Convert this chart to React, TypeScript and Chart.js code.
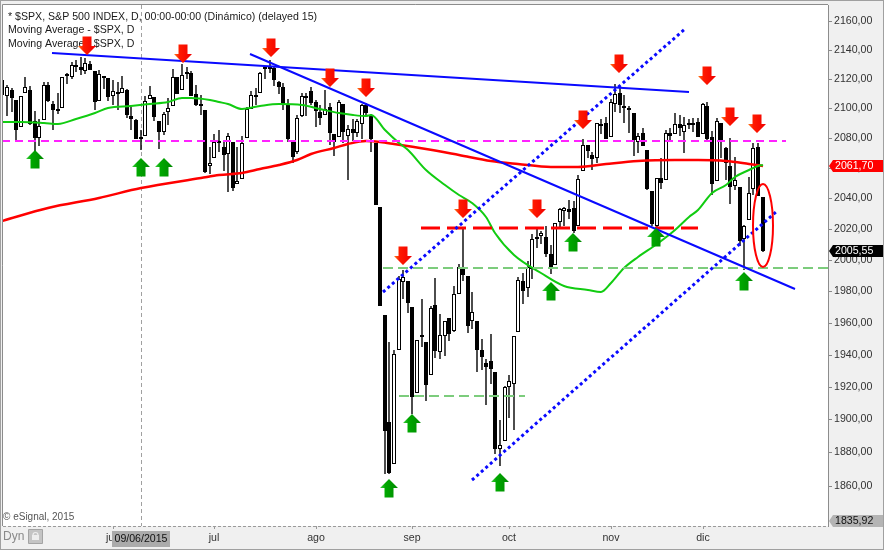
import React, { useEffect, useRef } from 'react';
import { Chart, registerables } from 'chart.js';

Chart.register(...registerables);

const FONT = '"Liberation Sans", Arial, Helvetica, sans-serif';
const FS = 10.6;

// ---- trading days (month, days) ----
const tradingDays: [string, number[]][] = [
  ['04', [27, 28, 29, 30]],
  ['05', [1, 4, 5, 6, 7, 8, 11, 12, 13, 14, 15, 18, 19, 20, 21, 22, 26, 27, 28, 29]],
  ['06', [1, 2, 3, 4, 5, 8, 9, 10, 11, 12, 15, 16, 17, 18, 19, 22, 23, 24, 25, 26, 29, 30]],
  ['07', [1, 2, 6, 7, 8, 9, 10, 13, 14, 15, 16, 17, 20, 21, 22, 23, 24, 27, 28, 29, 30, 31]],
  ['08', [3, 4, 5, 6, 7, 10, 11, 12, 13, 14, 17, 18, 19, 20, 21, 24, 25, 26, 27, 28, 31]],
  ['09', [1, 2, 3, 4, 8, 9, 10, 11, 14, 15, 16, 17, 18, 21, 22, 23, 24, 25, 28, 29, 30]],
  ['10', [1, 2, 5, 6, 7, 8, 9, 12, 13, 14, 15, 16, 19, 20, 21, 22, 23, 26, 27, 28, 29, 30]],
  ['11', [2, 3, 4, 5, 6, 9, 10, 11, 12, 13, 16, 17, 18, 19, 20, 23, 24, 25, 27, 30]],
  ['12', [1, 2, 3, 4, 7, 8, 9, 10, 11, 14, 15, 16, 17, 18]],
];
const dates = tradingDays.flatMap(([m, ds]) => ds.map((d) => `${String(d).padStart(2, '0')}/${m}/2015`));

// ---- OHLC (one line per month) ----
const open = [
  2119.3, 2108.4, 2112.5, 2105.5,
  2087.4, 2110.2, 2112.6, 2091.3, 2080.0, 2092.1, 2115.6, 2102.9, 2099.6, 2100.4, 2122.1, 2121.3, 2129.5, 2127.8, 2125.6, 2130.4, 2125.3, 2105.1, 2122.3, 2120.7,
  2108.6, 2110.4, 2110.6, 2112.4, 2095.1, 2092.3, 2079.1, 2081.1, 2106.2, 2107.4, 2091.3, 2084.3, 2097.4, 2101.6, 2121.1, 2112.5, 2123.2, 2123.7, 2110.0, 2102.6, 2098.6, 2061.2,
  2067.0, 2078.0, 2074.0, 2069.5, 2077.7, 2049.7, 2052.7, 2080.0, 2099.7, 2109.2, 2110.6, 2126.8, 2126.9, 2127.6, 2118.2, 2114.2, 2102.2, 2078.2, 2070.8, 2094.7, 2106.8, 2111.6,
  2104.5, 2097.7, 2095.3, 2100.8, 2082.6, 2081.0, 2102.7, 2081.1, 2086.2, 2083.2, 2089.7, 2102.0, 2095.7, 2076.6, 2034.1, 1965.2, 1898.1, 1872.8, 1942.8, 1986.1, 1986.7,
  1970.1, 1916.5, 1950.8, 1947.8, 1927.3, 1971.5, 1941.6, 1951.5, 1963.1, 1955.1, 1978.0, 1995.3, 1989.7, 1960.8, 1961.4, 1943.2, 1934.8, 1935.9, 1929.2, 1881.9, 1887.1,
  1919.7, 1921.8, 1954.3, 1986.6, 1982.3, 1994.0, 2013.7, 2015.7, 2015.0, 2003.7, 1996.5, 2024.4, 2031.7, 2033.1, 2033.5, 2021.9, 2058.2, 2075.1, 2068.8, 2066.5, 2088.4, 2090.0,
  2080.8, 2102.6, 2110.6, 2101.7, 2098.6, 2096.6, 2077.2, 2083.4, 2072.3, 2044.6, 2022.1, 2053.7, 2052.0, 2083.7, 2082.8, 2089.4, 2084.4, 2089.3, 2088.8, 2091.0,
  2082.9, 2101.7, 2080.7, 2051.2, 2090.4, 2073.4, 2061.2, 2047.9, 2047.3, 2013.4, 2025.6, 2046.5, 2073.8, 2040.8,
];
const high = [
  2125.9, 2116.0, 2113.7, 2105.5,
  2108.4, 2121.0, 2115.2, 2098.4, 2092.9, 2117.7, 2117.7, 2105.1, 2110.2, 2121.5, 2123.9, 2131.8, 2133.0, 2134.7, 2134.3, 2132.2, 2125.3, 2126.2, 2122.3, 2120.7,
  2119.2, 2117.6, 2121.9, 2112.9, 2101.0, 2093.0, 2085.6, 2108.5, 2115.0, 2107.4, 2091.3, 2097.4, 2106.8, 2126.7, 2121.6, 2129.9, 2128.0, 2125.1, 2116.0, 2108.9, 2098.6, 2074.3,
  2082.8, 2085.1, 2078.6, 2083.7, 2077.7, 2074.3, 2081.3, 2100.7, 2112.0, 2114.1, 2124.4, 2128.9, 2132.8, 2128.5, 2118.5, 2116.9, 2106.0, 2078.2, 2095.6, 2110.6, 2110.5, 2114.2,
  2105.7, 2102.5, 2112.7, 2103.3, 2082.6, 2105.4, 2102.7, 2089.1, 2092.9, 2092.5, 2102.9, 2103.5, 2096.2, 2076.6, 2034.1, 1965.2, 1948.0, 1943.1, 1989.6, 1993.5, 1986.7,
  1970.1, 1948.9, 1975.0, 1947.8, 1970.4, 1988.6, 1965.3, 1961.1, 1963.1, 1983.2, 1997.3, 2020.9, 1989.7, 1979.6, 1961.4, 1949.5, 1937.2, 1952.9, 1929.2, 1899.5, 1920.5,
  1927.2, 1951.4, 1989.2, 1991.6, 1999.3, 2016.5, 2020.1, 2018.7, 2022.3, 2009.6, 2024.2, 2033.5, 2034.5, 2039.1, 2038.0, 2055.2, 2079.7, 2075.1, 2070.4, 2090.4, 2092.5, 2094.3,
  2106.2, 2116.5, 2114.6, 2108.8, 2101.9, 2096.6, 2083.7, 2086.9, 2072.3, 2044.6, 2053.2, 2066.7, 2085.3, 2086.7, 2097.1, 2095.6, 2094.1, 2093.0, 2093.3, 2093.8,
  2103.4, 2104.3, 2085.0, 2093.8, 2090.4, 2073.9, 2080.3, 2067.7, 2047.3, 2022.9, 2053.9, 2076.7, 2076.4, 2040.8,
];
const low = [
  2107.0, 2094.9, 2097.4, 2077.6,
  2087.4, 2110.2, 2088.5, 2067.9, 2075.0, 2092.1, 2104.6, 2085.6, 2096.0, 2100.4, 2116.8, 2120.0, 2124.5, 2122.6, 2123.0, 2126.1, 2099.2, 2105.1, 2112.9, 2104.9,
  2102.5, 2099.1, 2110.6, 2093.2, 2085.7, 2079.1, 2072.1, 2081.1, 2106.2, 2091.3, 2072.5, 2082.1, 2088.9, 2101.6, 2109.5, 2112.5, 2119.9, 2108.6, 2101.8, 2095.4, 2056.6, 2056.3,
  2067.0, 2071.0, 2058.4, 2044.0, 2044.7, 2049.7, 2052.7, 2080.0, 2099.7, 2102.5, 2110.6, 2119.9, 2123.7, 2115.4, 2110.0, 2098.6, 2077.1, 2063.5, 2069.1, 2094.1, 2095.0, 2102.1,
  2087.3, 2088.6, 2095.3, 2075.5, 2067.9, 2081.0, 2076.5, 2052.1, 2078.3, 2080.6, 2079.3, 2094.1, 2070.5, 2035.7, 1970.9, 1867.0, 1867.1, 1872.8, 1942.8, 1975.2, 1966.0,
  1903.1, 1916.5, 1944.7, 1911.2, 1927.3, 1937.9, 1937.2, 1939.2, 1948.3, 1954.3, 1977.9, 1986.7, 1953.5, 1955.8, 1929.2, 1930.7, 1908.9, 1921.5, 1879.2, 1871.9, 1887.1,
  1900.7, 1893.7, 1954.3, 1972.0, 1976.4, 1987.5, 2007.6, 2010.6, 2001.8, 1990.7, 1996.5, 2020.5, 2022.3, 2026.6, 2017.2, 2021.9, 2058.2, 2066.5, 2058.8, 2063.1, 2082.6, 2079.3,
  2080.8, 2097.5, 2097.0, 2090.4, 2083.7, 2068.2, 2069.9, 2074.9, 2045.7, 2022.0, 2019.9, 2045.9, 2052.0, 2078.8, 2082.8, 2081.4, 2070.3, 2086.3, 2084.1, 2080.4,
  2082.9, 2077.1, 2042.4, 2051.2, 2066.8, 2052.3, 2036.5, 2045.7, 2008.8, 1993.3, 2025.6, 2042.4, 2041.7, 2005.3,
];
const close = [
  2108.9, 2114.8, 2106.9, 2085.5,
  2108.3, 2114.5, 2089.5, 2080.2, 2088.0, 2116.1, 2105.3, 2099.1, 2098.5, 2121.1, 2122.7, 2129.2, 2127.8, 2125.9, 2130.8, 2126.1, 2104.2, 2123.5, 2120.8, 2107.4,
  2111.7, 2109.6, 2114.1, 2095.8, 2092.8, 2079.3, 2080.2, 2105.2, 2108.9, 2094.1, 2084.4, 2096.3, 2100.4, 2121.2, 2110.0, 2122.9, 2124.2, 2108.6, 2102.3, 2101.5, 2057.6, 2063.1,
  2077.4, 2076.8, 2068.8, 2081.3, 2046.7, 2051.3, 2076.6, 2099.6, 2109.0, 2107.4, 2124.3, 2126.6, 2128.3, 2119.2, 2114.2, 2102.2, 2079.7, 2067.6, 2093.3, 2108.6, 2108.6, 2103.8,
  2098.0, 2093.3, 2099.8, 2083.6, 2077.6, 2104.2, 2084.1, 2086.1, 2083.4, 2091.5, 2102.4, 2096.9, 2079.6, 2035.7, 1970.9, 1893.2, 1867.6, 1940.5, 1987.7, 1988.9, 1972.2,
  1913.9, 1948.9, 1951.1, 1921.2, 1969.4, 1942.0, 1952.3, 1961.1, 1953.0, 1978.1, 1995.3, 1990.2, 1958.0, 1967.0, 1942.7, 1938.8, 1932.2, 1931.3, 1881.8, 1884.1, 1920.0,
  1923.8, 1951.4, 1987.1, 1979.9, 1995.8, 2013.4, 2014.9, 2017.5, 2003.7, 1994.2, 2023.9, 2033.1, 2033.7, 2030.8, 2018.9, 2052.5, 2075.2, 2071.2, 2065.9, 2090.4, 2089.4, 2079.4,
  2104.1, 2109.8, 2102.3, 2099.9, 2099.2, 2078.6, 2081.7, 2075.0, 2046.0, 2023.0, 2053.2, 2050.4, 2083.6, 2081.2, 2089.2, 2086.6, 2089.1, 2088.9, 2090.1, 2080.4,
  2102.6, 2079.5, 2049.6, 2091.7, 2077.1, 2063.6, 2047.6, 2052.2, 2012.4, 2021.9, 2043.4, 2073.1, 2041.9, 2005.55,
];

// ---- moving averages (candle index, value) ----
const maFastAt = [0, 4, 9, 12, 16, 20, 23, 28, 32, 36, 39, 41, 45, 47, 49, 52, 56, 60, 65, 69, 73, 76, 79, 80, 83, 86, 88, 92, 96, 99, 102, 105, 107, 111, 117, 122, 127, 130, 132, 135, 138, 142, 146, 149, 151, 154, 157, 159, 162, 164, 165];
const maFastValues = [2090.5, 2091, 2090, 2089.6, 2093, 2097, 2100, 2101.4, 2102.6, 2104, 2106.7, 2107, 2105.7, 2104, 2102.6, 2099.8, 2101.4, 2103, 2102, 2099.3, 2096.8, 2095.3, 2095, 2095.7, 2085.3, 2077, 2071.9, 2058.6, 2048.7, 2042, 2036.7, 2028, 2017.3, 2003, 1991.5, 1983.3, 1980.8, 1979.7, 1985, 1994.6, 2002, 2010, 2019.3, 2028, 2032.3, 2043.3, 2048.7, 2054, 2058.6, 2061.2, 2061.9];
const maSlowAt = [0, 10, 21, 30, 43, 47, 52, 56, 60, 64, 67, 72, 75, 79, 82, 85, 92, 99, 106, 112, 119, 125, 131, 138, 146, 151, 157, 162, 165];
const maSlowValues = [2025, 2033.5, 2040.5, 2046.6, 2053.4, 2055.4, 2056.6, 2059.2, 2062.3, 2065.2, 2069.5, 2073.5, 2076.2, 2077.9, 2077.7, 2076.2, 2072.9, 2068.6, 2064.8, 2063, 2060.6, 2060.6, 2063, 2064.8, 2065.6, 2065.6, 2064.8, 2063, 2061.7];

// ---- drawn annotations: [fromIndex, fromValue, toIndex, toValue] ----
const solidTrendlines = [
  [10.8, 2137.4, 149.1, 2111.2],
  [53.7, 2136.9, 172.0, 1981.2],
];
const channelLines = [
  [82.7, 1979.7, 148.2, 2154.2],
  [101.9, 1863.4, 167.9, 2031.0],
];
// horizontal levels: [fromIndex, toIndex, value]
const levelMagenta = [0, 170.1, 2078.1];
const levelRed = [90.9, 151.0, 2020.7];
const levelGreen = [82.6, 181, 1994.9];
const levelGreenLow = [86.0, 113.4, 1914.1];

// arrows: candle index and tip value
const downArrowAt = [18.3, 39.2, 58.3, 71, 78.9, 87, 100, 116, 126, 133.8, 153, 158, 163.8];
const downArrowTip = [2136.3, 2130.6, 2134.7, 2114.6, 2107.8, 1996.5, 2027, 2027, 2086, 2123.7, 2115.7, 2088.2, 2083.5];
const upArrowAt = [7.1, 30.1, 35.1, 83.9, 88.9, 108, 119, 123.9, 141.9, 161];
const upArrowTip = [2071.9, 2066.6, 2066.6, 1863.7, 1903.1, 1867.4, 1985.9, 2017.3, 2020.5, 1992.3];

// ellipse around last candle: center index, half width (index units), top value, bottom value
const ellipseMark = [165, 2.2, 2049.3, 1995.2];

// ---- axes ----
const monthTickAt = [24, 46, 68, 89, 110, 132, 152];
const monthTickLabels = ['jun', 'jul', 'ago', 'sep', 'oct', 'nov', 'dic'];
const priceTicks = [1860, 1880, 1900, 1920, 1940, 1960, 1980, 2000, 2020, 2040, 2060, 2080, 2100, 2120, 2140, 2160];
const priceFloor = 1835.92;
const priceCeil = 2171;
const viewFrom = 0.13;
const viewTo = 179.2;
const crosshairAt = 30;

const legendLines = [
  '* $SPX, S&P 500 INDEX, D, 00:00-00:00 (Dinámico) (delayed 15)',
  'Moving Average - $SPX, D',
  'Moving Average - $SPX, D',
];

const fmt = (v: number) => v.toFixed(2).replace('.', ',');

function drawArrow(ctx: CanvasRenderingContext2D, cx: number, tipY: number, dir: number, up: boolean) {
  const hw = 9, sw = 4.5, hh = 9, sh = 9.5;
  const base = tipY - dir * hh;
  const top = tipY - dir * (hh + sh);
  ctx.beginPath();
  ctx.moveTo(cx - sw, top);
  ctx.lineTo(cx + sw, top);
  ctx.lineTo(cx + sw, base);
  ctx.lineTo(cx + hw, base);
  ctx.lineTo(cx, tipY);
  ctx.lineTo(cx - hw, base);
  ctx.lineTo(cx - sw, base);
  ctx.closePath();
  const g = ctx.createLinearGradient(cx - hw, 0, cx + hw, 0);
  if (up) {
    g.addColorStop(0, '#3fd03f');
    g.addColorStop(0.3, '#00a800');
    g.addColorStop(1, '#008a00');
  } else {
    g.addColorStop(0, '#ff7a1a');
    g.addColorStop(0.3, '#ff1a00');
    g.addColorStop(1, '#f00000');
  }
  ctx.fillStyle = g;
  ctx.fill();
}

function valueTag(ctx: CanvasRenderingContext2D, x0: number, x1: number, cy: number, text: string, bg: string, fg: string) {
  ctx.beginPath();
  ctx.moveTo(x0, cy);
  ctx.lineTo(x0 + 4, cy - 6);
  ctx.lineTo(x1, cy - 6);
  ctx.lineTo(x1, cy + 6);
  ctx.lineTo(x0 + 4, cy + 6);
  ctx.closePath();
  ctx.fillStyle = bg;
  ctx.fill();
  ctx.fillStyle = fg;
  ctx.font = `${FS}px ${FONT}`;
  ctx.textAlign = 'left';
  ctx.textBaseline = 'middle';
  ctx.fillText(text, x0 + 6, cy + 0.5);
}

const decorPlugin = {
  id: 'decor',
  beforeDraw(chart: any) {
    const { ctx, chartArea: a, width, height } = chart;
    ctx.save();
    ctx.fillStyle = '#f0f0f0';
    ctx.fillRect(0, 0, width, height);
    ctx.fillStyle = '#ffffff';
    ctx.fillRect(a.left, a.top, a.right - a.left, a.bottom - a.top);
    ctx.strokeStyle = '#a0a0a0';
    ctx.lineWidth = 1;
    ctx.strokeRect(0.5, 0.5, width - 1, height - 1);
    ctx.strokeStyle = '#8c8c8c';
    ctx.beginPath();
    ctx.moveTo(a.left - 0.5, a.bottom);
    ctx.lineTo(a.left - 0.5, a.top - 0.5);
    ctx.lineTo(a.right, a.top - 0.5);
    ctx.stroke();
    ctx.setLineDash([3, 2]);
    ctx.strokeStyle = '#9a9a9a';
    ctx.beginPath();
    ctx.moveTo(a.left, a.bottom + 0.5);
    ctx.lineTo(a.right, a.bottom + 0.5);
    ctx.stroke();
    ctx.restore();
  },
  beforeDatasetsDraw(chart: any) {
    const { ctx, chartArea: a, scales } = chart;
    ctx.save();
    // crosshair
    const cx = Math.round(scales.x.getPixelForValue(crosshairAt)) + 0.5;
    ctx.strokeStyle = '#a0a0a0';
    ctx.lineWidth = 1;
    ctx.setLineDash([4, 3]);
    ctx.beginPath();
    ctx.moveTo(cx, a.top);
    ctx.lineTo(cx, a.bottom);
    ctx.stroke();
    ctx.setLineDash([]);
    // legend
    ctx.fillStyle = '#1a1a1a';
    ctx.font = `${FS}px ${FONT}`;
    ctx.textAlign = 'left';
    ctx.textBaseline = 'middle';
    legendLines.forEach((t, i) => ctx.fillText(t, 8, 16.7 + i * 13.8));
    ctx.fillStyle = '#555';
    ctx.font = `10px ${FONT}`;
    ctx.fillText('© eSignal, 2015', 3, a.bottom - 9);
    ctx.restore();
  },
  afterDatasetsDraw(chart: any) {
    const { ctx, chartArea: a, scales } = chart;
    const xs = scales.x, ys = scales.y;
    ctx.save();
    ctx.beginPath();
    ctx.rect(a.left, a.top, a.right - a.left, a.bottom - a.top);
    ctx.clip();
    // ellipse
    const [ei, ew, et, eb] = ellipseMark;
    const ecx = xs.getPixelForValue(ei);
    const erx = xs.getPixelForValue(ei + ew) - ecx;
    const etp = ys.getPixelForValue(et);
    const ebt = ys.getPixelForValue(eb);
    ctx.strokeStyle = '#ff0000';
    ctx.lineWidth = 2;
    ctx.beginPath();
    ctx.ellipse(ecx, (etp + ebt) / 2, erx, (ebt - etp) / 2, 0, 0, Math.PI * 2);
    ctx.stroke();
    // arrows
    downArrowAt.forEach((i, k) => drawArrow(ctx, xs.getPixelForValue(i), ys.getPixelForValue(downArrowTip[k]), 1, false));
    upArrowAt.forEach((i, k) => drawArrow(ctx, xs.getPixelForValue(i), ys.getPixelForValue(upArrowTip[k]), -1, true));
    ctx.restore();
  },
  afterDraw(chart: any) {
    const { ctx, chartArea: a, scales, width } = chart;
    const ys = scales.y, xs = scales.x;
    ctx.save();
    const x0 = a.right + 1;
    const x1 = width - 1;
    valueTag(ctx, x0, x1, ys.getPixelForValue(maSlowValues[maSlowValues.length - 1]), fmt(maSlowValues[maSlowValues.length - 1]), '#ff0000', '#ffffff');
    valueTag(ctx, x0, x1, ys.getPixelForValue(close[close.length - 1]), fmt(close[close.length - 1]), '#000000', '#ffffff');
    valueTag(ctx, x0, x1, Math.min(ys.getPixelForValue(priceFloor), a.bottom - 5), fmt(priceFloor), '#b4b4b4', '#111111');
    // crosshair date tag
    const cx = xs.getPixelForValue(crosshairAt);
    ctx.fillStyle = '#ababab';
    ctx.fillRect(cx - 29, a.bottom + 5, 58, 16);
    ctx.fillStyle = '#111';
    ctx.font = `${FS}px ${FONT}`;
    ctx.textAlign = 'center';
    ctx.textBaseline = 'middle';
    ctx.fillText(dates[crosshairAt], cx, a.bottom + 13.5);
    // Dyn button
    ctx.textAlign = 'left';
    ctx.fillStyle = '#8a8a8a';
    ctx.font = `12px ${FONT}`;
    ctx.fillText('Dyn', 3, a.bottom + 11);
    ctx.fillStyle = '#c4c4c4';
    ctx.strokeStyle = '#a4a4a4';
    ctx.beginPath();
    ctx.rect(28.5, a.bottom + 3.5, 14, 14);
    ctx.fill();
    ctx.stroke();
    ctx.strokeStyle = '#eeeeee';
    ctx.lineWidth = 1.2;
    ctx.beginPath();
    ctx.arc(35.5, a.bottom + 9, 2.5, Math.PI, 0);
    ctx.stroke();
    ctx.fillStyle = '#eeeeee';
    ctx.fillRect(32, a.bottom + 9, 7, 5);
    ctx.restore();
  },
};

export default function App() {
  const ref = useRef<HTMLCanvasElement | null>(null);

  useEffect(() => {
    if (!ref.current) return;
    const bodyColors = close.map((c, i) => (c >= open[i] ? '#ffffff' : '#000000'));
    const line = (pts: number[][], color: string, widthPx: number, dash: number[], order: number) => ({
      type: 'line' as const,
      data: pts.map(([x, y]) => ({ x, y })),
      borderColor: color,
      borderWidth: widthPx,
      borderDash: dash,
      pointRadius: 0,
      fill: false,
      clip: 0,
      order,
    });
    const level = (l: number[], color: string, w: number, dash: number[]) =>
      line([[l[0], l[2]], [l[1], l[2]]], color, w, dash, 4);

    const chart = new Chart(ref.current, {
      type: 'bar',
      data: {
        datasets: [
          {
            type: 'bar',
            label: 'wick',
            data: dates.map((_, i) => ({ x: i, y: [low[i], high[i]] })) as any,
            backgroundColor: '#000000',
            borderWidth: 0,
            barThickness: 1.4,
            grouped: false,
            inflateAmount: 0,
            order: 10,
          },
          {
            type: 'bar',
            label: 'body',
            data: dates.map((_, i) => ({ x: i, y: [open[i], close[i]] })) as any,
            backgroundColor: bodyColors,
            borderColor: '#000000',
            borderWidth: 1,
            borderSkipped: false,
            barThickness: 4,
            minBarLength: 2,
            grouped: false,
            inflateAmount: 0,
            order: 9,
          },
          {
            type: 'line',
            label: 'MA slow',
            data: maSlowAt.map((x, k) => ({ x, y: maSlowValues[k] })),
            borderColor: '#ff0000',
            borderWidth: 2.5,
            pointRadius: 0,
            cubicInterpolationMode: 'monotone',
            clip: 0,
            order: 7,
          },
          {
            type: 'line',
            label: 'MA fast',
            data: maFastAt.map((x, k) => ({ x, y: maFastValues[k] })),
            borderColor: '#11cc11',
            borderWidth: 2,
            pointRadius: 0,
            cubicInterpolationMode: 'monotone',
            clip: 0,
            order: 6,
          },
          level(levelMagenta, '#ff22ff', 2, [8, 5]),
          level(levelRed, '#ff0000', 3, [19, 7]),
          level(levelGreen, '#7ccc7c', 2, [10, 5]),
          level(levelGreenLow, '#7ccc7c', 2, [10, 5]),
          ...solidTrendlines.map((t) => line([[t[0], t[1]], [t[2], t[3]]], '#0a0aff', 2, [], 2)),
          ...channelLines.map((t) => line([[t[0], t[1]], [t[2], t[3]]], '#0a0aff', 3, [3, 3], 2)),
        ] as any,
      },
      options: {
        animation: false,
        responsive: false,
        devicePixelRatio: 1,
        events: [],
        layout: { padding: { left: 3, top: 5, right: 0, bottom: 0 } },
        plugins: { legend: { display: false }, tooltip: { enabled: false } },
        scales: {
          x: {
            type: 'linear',
            offset: false,
            alignToPixels: true,
            min: viewFrom,
            max: viewTo,
            afterBuildTicks: (s: any) => {
              s.ticks = monthTickAt.map((v) => ({ value: v }));
            },
            afterFit: (s: any) => {
              s.height = 24;
              s.paddingLeft = 0;
              s.paddingRight = 0;
            },
            ticks: {
              autoSkip: false,
              maxRotation: 0,
              padding: 3,
              color: '#333333',
              font: { family: FONT, size: FS },
              callback: (v: any) => {
                const k = monthTickAt.indexOf(Number(v));
                return k >= 0 ? monthTickLabels[k] : '';
              },
            },
            grid: { offset: false, drawOnChartArea: false, drawTicks: true, tickLength: 3, color: '#999999' },
            border: { display: false },
          },
          y: {
            type: 'logarithmic',
            position: 'right',
            alignToPixels: true,
            min: priceFloor,
            max: priceCeil,
            afterBuildTicks: (s: any) => {
              s.ticks = priceTicks.map((v) => ({ value: v }));
            },
            afterFit: (s: any) => {
              s.width = 56;
              s.paddingTop = 0;
              s.paddingBottom = 0;
            },
            ticks: {
              autoSkip: false,
              padding: 2,
              color: '#333333',
              font: { family: FONT, size: FS },
              callback: (v: any) => fmt(Number(v)),
            },
            grid: { drawOnChartArea: false, drawTicks: true, tickLength: 4, color: '#888888' },
            border: { display: true, color: '#8c8c8c' },
          },
        },
      } as any,
      plugins: [decorPlugin],
    });
    return () => chart.destroy();
  }, []);

  return (
    <div style={{ position: 'absolute', left: 0, top: 0, width: 884, height: 550 }}>
      <canvas ref={ref} width={884} height={550} style={{ display: 'block' }} />
    </div>
  );
}
